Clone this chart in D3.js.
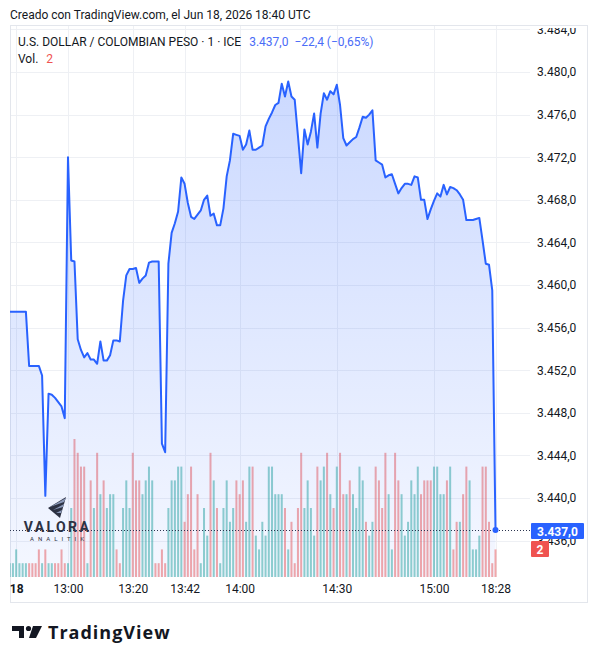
<!DOCTYPE html>
<html>
<head>
<meta charset="utf-8">
<script src="https://cdn.jsdelivr.net/npm/d3@7"></script>
<style>
  body { margin: 0; background: #ffffff; }
  svg { display: block; }
</style>
</head>
<body>
<div id="chart"></div>
<script>
// USD/COP 1-minute closes, one per bar (bar index 0..150)
const closes = [
  3457.5, 3457.5, 3457.5, 3457.5, 3457.5, 3457.5, 3452.4, 3452.4, 3452.4, 3452.4,
  3451.5, 3440.2, 3449.8, 3449.7, 3449.4, 3449.0, 3448.6, 3447.5, 3472.0, 3462.3,
  3462.2, 3454.9, 3453.9, 3453.2, 3453.6, 3453.0, 3453.0, 3452.6, 3454.7, 3452.9,
  3452.9, 3453.4, 3454.8, 3454.8, 3454.7, 3458.5, 3460.9, 3461.5, 3461.5, 3461.6,
  3460.2, 3460.6, 3460.9, 3462.1, 3462.2, 3462.2, 3462.2, 3445.1, 3444.3, 3462.0,
  3464.9, 3465.8, 3466.9, 3470.1, 3469.5, 3467.7, 3466.4, 3466.2, 3466.6, 3467.0,
  3468.0, 3468.4, 3466.5, 3466.7, 3465.6, 3465.6, 3467.2, 3470.2, 3471.7, 3474.2,
  3474.1, 3474.0, 3472.7, 3473.2, 3474.5, 3472.7, 3472.7, 3472.9, 3473.1, 3474.9,
  3475.6, 3476.2, 3476.9, 3477.1, 3478.9, 3477.7, 3479.1, 3477.7, 3477.4, 3474.0,
  3470.5, 3474.6, 3473.2, 3474.4, 3476.1, 3472.9, 3476.1, 3478.0, 3477.4, 3478.2,
  3477.9, 3478.8, 3476.9, 3473.8, 3473.1, 3473.4, 3473.7, 3473.9, 3474.8, 3475.8,
  3475.7, 3476.0, 3476.4, 3471.7, 3471.5, 3471.3, 3470.1, 3470.3, 3470.4, 3469.5,
  3468.6, 3469.1, 3469.5, 3469.5, 3469.4, 3470.2, 3470.1, 3468.0, 3468.0, 3466.2,
  3467.1, 3467.9, 3468.6, 3468.3, 3469.4, 3468.5, 3469.2, 3469.1, 3468.9, 3468.5,
  3468.0, 3466.1, 3466.1, 3466.1, 3466.2, 3466.3, 3464.2, 3462.0, 3461.9, 3459.5,
  3437.0
];

// volume per bar
const volumes = [
  1, 1, 2, 1, 1, 1, 1, 1, 1, 2,
  1, 2, 1, 1, 1, 1, 2, 1, 1, 5,
  10, 9, 8, 8, 1, 7, 5, 9, 6, 7,
  5, 6, 6, 2, 1, 5, 7, 5, 9, 7,
  7, 6, 7, 8, 7, 1, 1, 2, 1, 5,
  7, 7, 8, 8, 4, 6, 8, 2, 6, 1,
  5, 3, 9, 7, 5, 1, 5, 7, 4, 5,
  7, 6, 7, 4, 8, 8, 3, 2, 4, 3,
  8, 8, 6, 6, 6, 5, 2, 4, 1, 5,
  9, 5, 7, 5, 3, 8, 7, 8, 9, 6,
  5, 8, 9, 6, 6, 7, 6, 5, 8, 7,
  4, 3, 4, 8, 7, 5, 9, 6, 2, 9,
  7, 6, 3, 4, 7, 6, 8, 6, 7, 7,
  7, 8, 8, 6, 6, 7, 8, 2, 4, 4,
  6, 8, 7, 2, 2, 3, 8, 8, 4, 1,
  2
];

// 1 = up bar (teal), 0 = down bar (red)
const volumeUp = [
  1, 1, 1, 1, 1, 1, 0, 0, 0, 0,
  1, 0, 1, 1, 0, 0, 0, 0, 1, 1,
  0, 0, 0, 0, 1, 0, 1, 0, 1, 0,
  1, 1, 1, 0, 0, 1, 1, 1, 0, 0,
  0, 1, 1, 1, 1, 0, 0, 0, 0, 1,
  1, 1, 1, 1, 0, 0, 0, 0, 0, 1,
  1, 1, 0, 1, 0, 1, 1, 1, 1, 1,
  0, 0, 0, 1, 1, 0, 1, 1, 1, 1,
  1, 1, 1, 1, 1, 0, 1, 0, 0, 0,
  0, 1, 1, 1, 1, 0, 1, 1, 0, 1,
  0, 1, 0, 0, 1, 0, 1, 1, 1, 1,
  0, 1, 1, 0, 0, 0, 0, 1, 1, 0,
  0, 1, 1, 1, 1, 1, 1, 0, 0, 0,
  0, 1, 1, 1, 1, 0, 1, 0, 0, 1,
  0, 0, 1, 1, 1, 1, 0, 0, 0, 0,
  0
];

const timeTickIndex = [2, 18, 38, 54, 71, 101, 131, 150];
const timeTickLabels = ["18", "13:00", "13:20", "13:42", "14:00", "14:30", "15:00", "18:28"];
const priceTicks = [3436, 3440, 3444, 3448, 3452, 3456, 3460, 3464, 3468, 3472, 3476, 3480, 3484];

const headerText = "Creado con TradingView.com, el Jun 18, 2026 18:40 UTC";
const symbolText = "U.S. DOLLAR / COLOMBIAN PESO \u00b7 1 \u00b7 ICE";
const lastChangeText = "\u221222,4 (\u22120,65%)";

const lineColor = "#2962ff";
const textColor = "#131722";
const gridColor = "#eef0f4";
const borderColor = "#e3e6ec";
const upColor = "rgba(38,166,154,0.5)";
const downColor = "rgba(239,83,80,0.5)";
const uiFont = "Roboto, 'Noto Sans', sans-serif";

const width = 598, height = 664;
const plot = { left: 10, right: 530, top: 25, bottom: 577 };
const frame = { left: 10, right: 588, top: 25, bottom: 603 };

const fmt = d3.formatLocale({ decimal: ",", thousands: ".", grouping: [3], currency: ["", ""] }).format(",.1f");

const svg = d3.select("#chart")
  .append("svg")
  .attr("width", width)
  .attr("height", height)
  .style("font-family", uiFont);

svg.append("rect").attr("width", width).attr("height", height).attr("fill", "#ffffff");

const x = d3.scaleLinear().domain([0, 150]).range([9.7, 495.5]);
const y = d3.scaleLinear().domain([3440, 3480]).range([498, 72]);
const yVol = d3.scaleLinear().domain([0, 10]).range([plot.bottom, 439]);

const defs = svg.append("defs");
defs.append("clipPath").attr("id", "plot-clip")
  .append("rect")
  .attr("x", plot.left).attr("y", plot.top)
  .attr("width", plot.right - plot.left).attr("height", plot.bottom - plot.top);
defs.append("clipPath").attr("id", "axis-clip")
  .append("rect")
  .attr("x", plot.right).attr("y", plot.top + 3)
  .attr("width", frame.right - plot.right - 1).attr("height", plot.bottom - plot.top - 3);

const grad = defs.append("linearGradient")
  .attr("id", "area-grad")
  .attr("gradientUnits", "userSpaceOnUse")
  .attr("x1", 0).attr("x2", 0)
  .attr("y1", y(3479)).attr("y2", plot.bottom);
grad.append("stop").attr("offset", "0%").attr("stop-color", lineColor).attr("stop-opacity", 0.24);
grad.append("stop").attr("offset", "100%").attr("stop-color", lineColor).attr("stop-opacity", 0.05);

// grid
const grid = svg.append("g").attr("clip-path", "url(#plot-clip)");
grid.selectAll(".hgrid")
  .data(priceTicks)
  .enter()
  .append("line")
  .attr("x1", plot.left).attr("x2", plot.right)
  .attr("y1", d => Math.round(y(d)) + 0.5).attr("y2", d => Math.round(y(d)) + 0.5)
  .attr("stroke", gridColor);
grid.selectAll(".vgrid")
  .data(timeTickIndex)
  .enter()
  .append("line")
  .attr("x1", d => Math.round(x(d)) + 0.5).attr("x2", d => Math.round(x(d)) + 0.5)
  .attr("y1", plot.top).attr("y2", plot.bottom)
  .attr("stroke", gridColor);

// frame
svg.append("rect")
  .attr("x", frame.left + 0.5).attr("y", frame.top + 0.5)
  .attr("width", frame.right - frame.left - 1).attr("height", frame.bottom - frame.top - 1)
  .attr("fill", "none")
  .attr("stroke", borderColor);

const chart = svg.append("g").attr("clip-path", "url(#plot-clip)");

// volume bars
chart.selectAll(".vol")
  .data(volumes)
  .enter()
  .append("rect")
  .attr("x", (d, i) => x(i) - 1)
  .attr("width", 2)
  .attr("y", d => yVol(d))
  .attr("height", d => plot.bottom - yVol(d))
  .attr("fill", (d, i) => volumeUp[i] ? upColor : downColor);

// watermark
const logo = svg.append("g").attr("fill", "#2c3142");
logo.append("path").attr("d", "M48,508 L66,497 L60,518 Z");
logo.append("path").attr("d", "M50,507 L66,498 L64,502 Z").attr("fill", "#8a98b8");
logo.append("path").attr("d", "M53,510 L64,504 L63,507 Z").attr("fill", "#8a98b8");
logo.append("path").attr("d", "M56,513 L62,510 L61,513 Z").attr("fill", "#8a98b8");
logo.append("text")
  .attr("x", 57.5).attr("y", 532)
  .attr("text-anchor", "middle")
  .attr("font-size", "14px")
  .attr("font-weight", "700")
  .attr("letter-spacing", "2.4px")
  .text("VALORA");
logo.append("text")
  .attr("x", 59).attr("y", 541)
  .attr("text-anchor", "middle")
  .attr("font-size", "6px")
  .attr("letter-spacing", "4px")
  .text("ANALITIK");

// area + line
const area = d3.area()
  .x((d, i) => x(i))
  .y0(plot.bottom)
  .y1(d => y(d));
const line = d3.line()
  .x((d, i) => x(i))
  .y(d => y(d));

chart.append("path")
  .datum(closes)
  .attr("d", area)
  .attr("fill", "url(#area-grad)");

const last = closes.length - 1;

// last price dotted line
chart.append("line")
  .attr("x1", plot.left).attr("x2", plot.right)
  .attr("y1", Math.round(y(closes[last])) + 0.5).attr("y2", Math.round(y(closes[last])) + 0.5)
  .attr("stroke", "#2c3550")
  .attr("stroke-width", 1)
  .attr("stroke-dasharray", "1,2");

chart.append("path")
  .datum(closes)
  .attr("d", line)
  .attr("fill", "none")
  .attr("stroke", lineColor)
  .attr("stroke-width", 2)
  .attr("stroke-linejoin", "round");

chart.append("circle")
  .attr("cx", x(last)).attr("cy", y(closes[last]))
  .attr("r", 3)
  .attr("fill", lineColor);

// price axis (outer group holds the clip so the translate does not move it)
const yAxis = d3.axisRight(y)
  .tickValues(priceTicks)
  .tickSize(0)
  .tickPadding(0)
  .tickFormat(fmt);
const yAxisG = svg.append("g")
  .attr("clip-path", "url(#axis-clip)")
  .append("g")
  .attr("transform", `translate(${plot.right + 7},0)`)
  .call(yAxis);
yAxisG.select(".domain").remove();
yAxisG.selectAll("text")
  .attr("font-family", uiFont)
  .attr("font-size", "12px")
  .attr("fill", textColor);

// last value labels
svg.append("rect")
  .attr("x", 531).attr("y", 523)
  .attr("width", 53).attr("height", 16)
  .attr("rx", 1)
  .attr("fill", lineColor);
svg.append("text")
  .attr("x", 557.5).attr("y", 535.5)
  .attr("text-anchor", "middle")
  .attr("font-size", "12px")
  .attr("font-weight", "700")
  .attr("fill", "#ffffff")
  .text(fmt(closes[last]));
svg.append("rect")
  .attr("x", 531).attr("y", 541)
  .attr("width", 18).attr("height", 16)
  .attr("rx", 1)
  .attr("fill", "#ef5350");
svg.append("text")
  .attr("x", 540).attr("y", 553.5)
  .attr("text-anchor", "middle")
  .attr("font-size", "12px")
  .attr("font-weight", "700")
  .attr("fill", "#ffffff")
  .text(volumes[last]);

// time axis
const xAxis = d3.axisBottom(x)
  .tickValues(timeTickIndex)
  .tickSize(0)
  .tickPadding(0)
  .tickFormat((d, i) => timeTickLabels[i]);
const xAxisG = svg.append("g")
  .attr("transform", `translate(0,${plot.bottom + 7})`)
  .call(xAxis);
xAxisG.select(".domain").remove();
xAxisG.selectAll("text")
  .attr("font-family", uiFont)
  .attr("font-size", "12px")
  .attr("fill", textColor)
  .attr("font-weight", (d, i) => i === 0 ? "700" : "400");

// header texts
svg.append("text")
  .attr("x", 10).attr("y", 19)
  .attr("font-size", "12px")
  .attr("fill", textColor)
  .text(headerText);

const legend = svg.append("text")
  .attr("x", 18).attr("y", 46)
  .attr("font-size", "12px")
  .attr("fill", textColor);
legend.append("tspan").text(symbolText);
legend.append("tspan").attr("dx", 8).attr("fill", "#4a6cf7").text(fmt(closes[last]));
legend.append("tspan").attr("dx", 6).attr("fill", "#4a6cf7").text(lastChangeText);

const volLegend = svg.append("text")
  .attr("x", 18).attr("y", 63)
  .attr("font-size", "12px")
  .attr("fill", textColor);
volLegend.append("tspan").text("Vol.");
volLegend.append("tspan").attr("dx", 8).attr("fill", "#ef5350").text(volumes[last]);

// TradingView footer logo
const tv = svg.append("g").attr("fill", "#131722");
tv.append("path").attr("d", "M12,626 H24 V638 H19 V631 H12 Z");
tv.append("circle").attr("cx", 28.5).attr("cy", 628.5).attr("r", 2.6);
tv.append("path").attr("d", "M33,626 H42 L36,638 H29 Z");
tv.append("text")
  .attr("x", 48).attr("y", 639)
  .attr("font-family", "'Open Sans', sans-serif")
  .attr("font-size", "18px")
  .attr("font-weight", "700")
  .attr("letter-spacing", "1px")
  .text("TradingView");
</script>
</body>
</html>
